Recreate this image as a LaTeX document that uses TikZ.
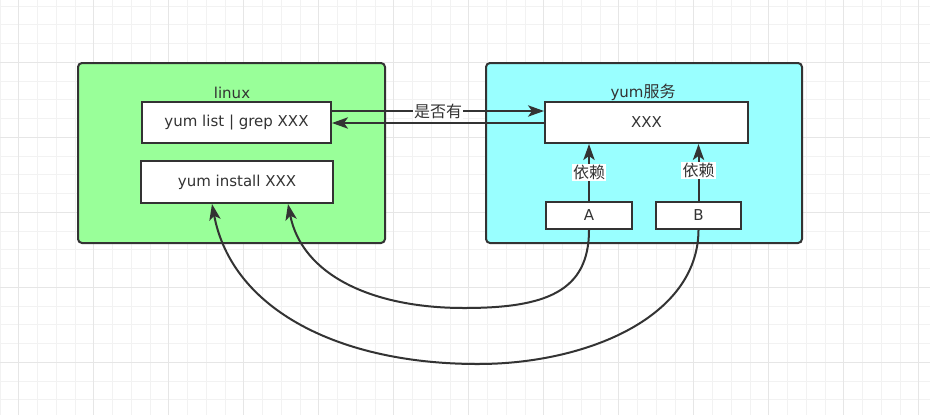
\documentclass[tikz,border=0pt]{standalone}
\usepackage{fontspec}
\setmainfont{DejaVu Sans}
\newfontfamily\cjk{Noto Sans CJK SC}
\usetikzlibrary{arrows.meta,calc}
\definecolor{lincol}{HTML}{99FF99}
\definecolor{yumcol}{HTML}{99FFFF}
\definecolor{edgecol}{HTML}{333333}
\definecolor{txtcol}{HTML}{333333}
\definecolor{gminor}{HTML}{F2F2F2}
\definecolor{gmajor}{HTML}{E6E6E6}
\newcommand{\zh}[1]{{\cjk\fontsize{12pt}{14pt}\selectfont #1}}
\tikzset{
  container/.style={draw=edgecol, line width=1.5pt, rounded corners=3pt, inner sep=0pt},
  cmdbox/.style={draw=edgecol, fill=white, line width=1.5pt, inner sep=0pt, text=txtcol, font=\fontsize{11.25pt}{13pt}\selectfont},
  title/.style={text=txtcol, font=\fontsize{11.25pt}{13pt}\selectfont, inner sep=0pt},
  conn/.style={draw=edgecol, line width=1.5pt, -{Stealth[length=12pt,width=8.5pt,inset=3pt]}},
  lbl/.style={fill=white, text=txtcol, inner sep=1pt}
}
\begin{document}
\begin{tikzpicture}[x=0.75pt,y=-0.75pt]
\fill[white] (0,0) rectangle (930,415);
\useasboundingbox (0,0) rectangle (930,415);
% grid
\foreach \i in {0,...,49} {
  \draw[gminor, line width=0.75pt] ({\i*18.75},0) -- ({\i*18.75},415);
}
\foreach \j in {0,...,22} {
  \draw[gminor, line width=0.75pt] (0,{6+\j*18.75}) -- (930,{6+\j*18.75});
}
\foreach \i in {0,...,12} {
  \draw[gmajor, line width=0.75pt] ({18.75+\i*75},0) -- ({18.75+\i*75},415);
}
\foreach \j in {0,...,5} {
  \draw[gmajor, line width=0.75pt] (0,{62.3+\j*75}) -- (930,{62.3+\j*75});
}
% containers
\node[container, fill=lincol, minimum width=230.25pt, minimum height=135pt] (linux) at (231.5,153) {};
\node[container, fill=yumcol, minimum width=237pt, minimum height=135pt] (yum) at (644,153) {};
\node[title] (linuxlbl) at (232,92.5) {linux};
\node[title] (yumlbl) at (643,92.5) {yum\zh{服务}};
% inner boxes
\node[cmdbox, minimum width=141.75pt, minimum height=30.75pt] (yl) at (236.5,122.5) {yum list | grep XXX};
\node[cmdbox, minimum width=144pt, minimum height=31.5pt] (yi) at (237,182) {yum install XXX};
\node[cmdbox, minimum width=152.25pt, minimum height=30.75pt] (xx) at (646.5,122.5) {XXX};
\node[cmdbox, minimum width=64.5pt, minimum height=20.25pt] (a) at (589,215.5) {A};
\node[cmdbox, minimum width=63.75pt, minimum height=20.25pt] (b) at (698.5,215.5) {B};
% query arrows
\draw[conn] ($(yl.east)+(0,-11.5)$) -- node[lbl] {\zh{是否有}} ($(xx.west)+(0,-11.5)$);
\draw[conn] ($(xx.west)+(0,0.5)$) -- ($(yl.east)+(0,0.5)$);
% dependency arrows
\draw[conn] (a.north) -- node[lbl] {\zh{依赖}} (a.north |- xx.south);
\draw[conn] (b.north) -- node[lbl, yshift=1.5pt] {\zh{依赖}} (b.north |- xx.south);
% curves
\draw[conn] (a.south) .. controls (589,292) and (545,308) .. (464,308)
  .. controls (372,308) and (302,275) .. ($(yi.south)+(51,0)$);
\draw[conn] (b.south) .. controls (698,318) and (585,364) .. (478,364)
  .. controls (340,364) and (232,310) .. ($(yi.south)+(-25,0)$);
\end{tikzpicture}
\end{document}
